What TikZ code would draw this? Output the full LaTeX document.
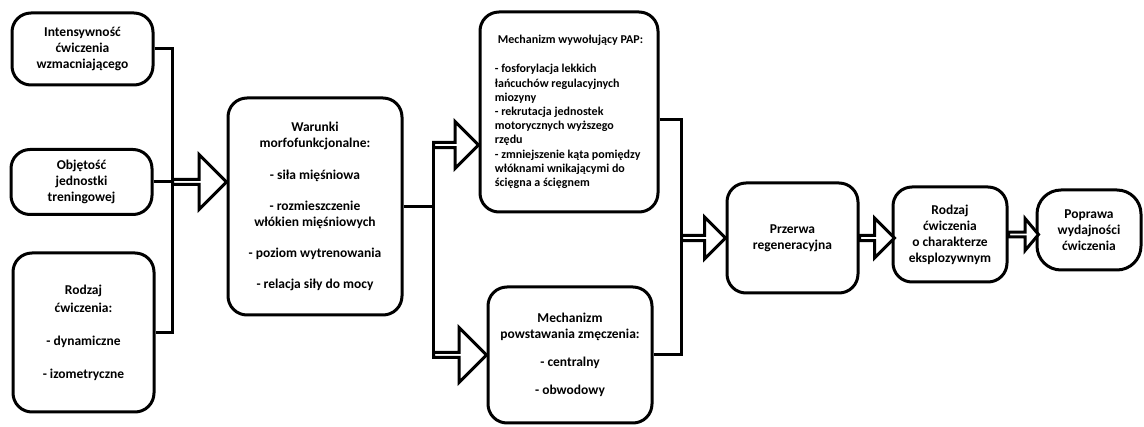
\documentclass[tikz,border=0pt]{standalone}
\usepackage{fontspec}
\setmainfont{Carlito}
\usetikzlibrary{shapes.arrows}
\tikzset{
  box/.style={draw, line width=3pt, rounded corners=19pt, inner sep=2pt, align=center,
    font=\bfseries\fontsize{13.5}{16}\selectfont},
  fatarrow/.style={single arrow, draw, fill=white, line width=3pt, inner sep=0pt,
    outer sep=0pt, single arrow tip angle=90},
  link/.style={line width=3pt}
}
\begin{document}
\begin{tikzpicture}[x=1pt, y=-1pt]
\useasboundingbox (0,0) rectangle (1144,427);

% factors on the left
\node[box, minimum width=141pt, minimum height=72pt] (intens) at (82.5,49)
  {Intensywność\\ćwiczenia\\wzmacniającego};
\node[box, minimum width=141pt, minimum height=65pt] (objet) at (81.5,182)
  {Objętość\\jednostki\\treningowej};
\node[box, minimum width=141pt, minimum height=159pt] (rodzajc) at (83.5,332.5)
  {Rodzaj\\[2pt]ćwiczenia:\\[17pt]- dynamiczne\\[17pt]- izometryczne};

\node[box, minimum width=174pt, minimum height=217pt] (warunki) at (315,206.5)
  {Warunki\\morfofunkcjonalne:\\[16pt]- siła mięśniowa\\[15pt]- rozmieszczenie\\włókien mięśniowych\\[15pt]- poziom wytrenowania\\[15pt]- relacja siły do mocy};

% mechanisms
\node[box, align=left, minimum width=178pt, minimum height=200pt,
  font=\bfseries\fontsize{12}{14.2}\selectfont] (pap) at (569,112)
  {\hspace{3pt}Mechanizm wywołujący PAP:\\[15pt]- fosforylacja lekkich\\łańcuchów regulacyjnych\\miozyny\\- rekrutacja jednostek\\motorycznych wyższego\\rzędu\\- zmniejszenie kąta pomiędzy\\włóknami wnikającymi do\\ścięgna a ścięgnem};
\node[box, minimum width=164pt, minimum height=136pt] (zmecz) at (570,355)
  {Mechanizm\\powstawania zmęczenia:\\[12pt]- centralny\\[12pt]- obwodowy};

% chain on the right
\node[box, minimum width=131pt, minimum height=110pt] (przerwa) at (792.5,238)
  {Przerwa\\regeneracyjna};
\node[box, minimum width=114pt, minimum height=95pt] (rodzajw) at (950,234.5)
  {Rodzaj\\ćwiczenia\\o charakterze\\eksplozywnym};
\node[box, rounded corners=24pt, minimum width=104pt, minimum height=80pt] (poprawa) at (1089,230)
  {Poprawa\\wydajności\\ćwiczenia};

% hollow arrows
\node[fatarrow, anchor=tip, minimum height=54pt, minimum width=55pt,
  single arrow head extend=15pt] (arrL) at (objet -| warunki.west) {};
\node[fatarrow, anchor=tip, minimum height=45pt, minimum width=47pt,
  single arrow head extend=12.5pt] (arrU) at ([yshift=-33pt]pap.west) {};
\node[fatarrow, anchor=tip, minimum height=53pt, minimum width=55pt,
  single arrow head extend=15pt] (arrD) at (zmecz.west) {};
\node[fatarrow, anchor=tip, minimum height=44pt, minimum width=42pt,
  single arrow head extend=11pt] (arrR) at (przerwa.west) {};
\node[fatarrow, anchor=tail, minimum height=35pt, minimum width=40pt,
  single arrow head extend=10pt] (arrP) at (przerwa.east) {};
\node[fatarrow, anchor=tail, minimum height=30pt, minimum width=32pt,
  single arrow head extend=8.5pt, single arrow tip angle=100] (arrW) at (rodzajw.east) {};

% connectors
\draw[link] (intens.east) -| (rodzajc.east -| arrL.tail) -- (rodzajc.east);
\draw[link] (objet.east) -- (arrL.tail);
\draw[link] (warunki.east) -- (warunki.east -| arrU.tail);
\draw[link] (arrU.tail) -- (arrD.tail);
\draw[link] ([yshift=-8pt]pap.east) -| (zmecz.east -| arrR.tail) -- (zmecz.east);
\end{tikzpicture}
\end{document}
